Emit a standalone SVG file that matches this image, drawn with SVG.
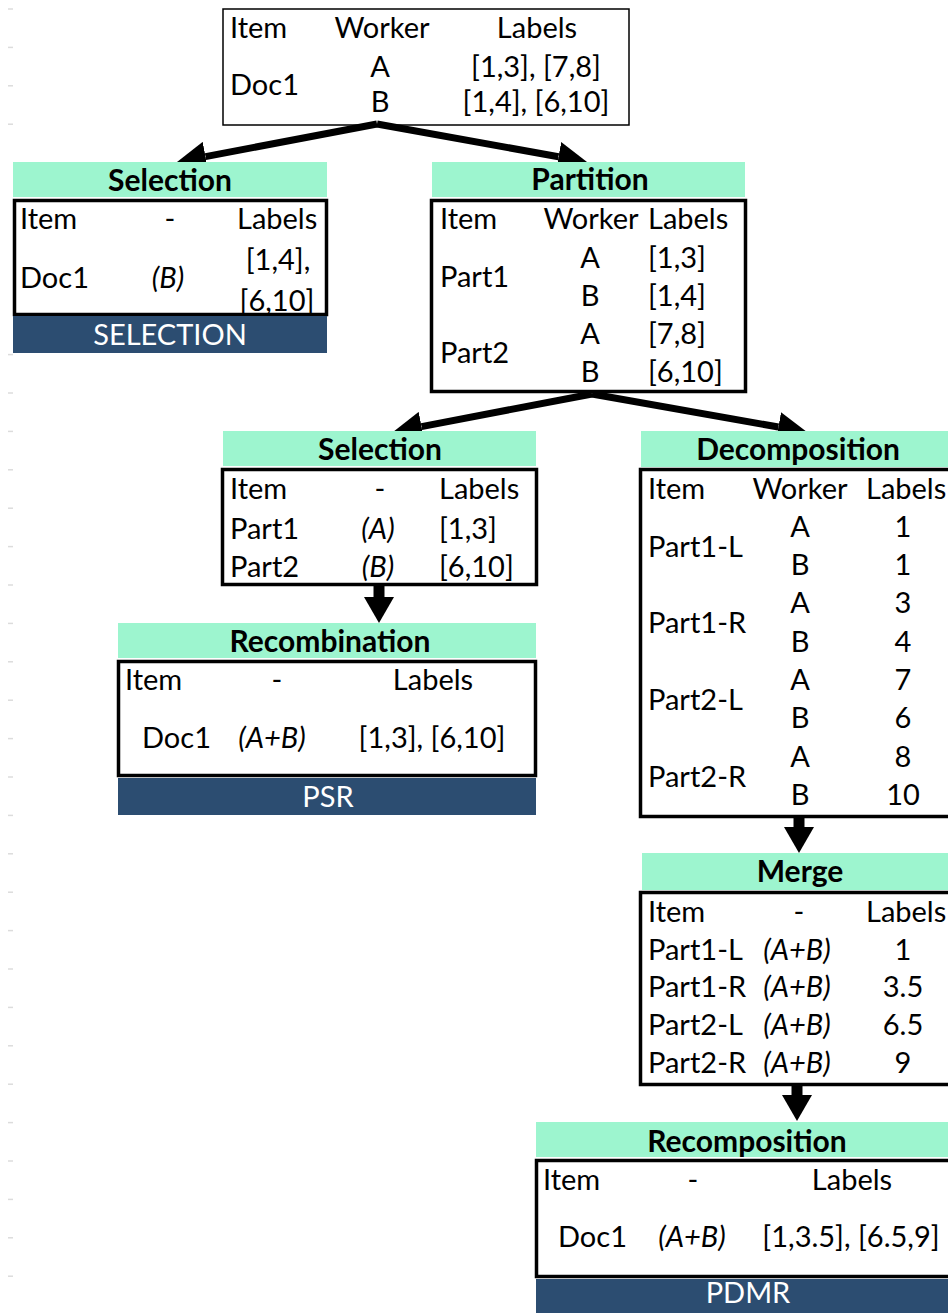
<svg xmlns="http://www.w3.org/2000/svg" width="948" height="1313" viewBox="0 0 948 1313">
<defs>
<style>
text{font-family:Lato,"Open Sans","Liberation Sans",sans-serif;font-size:29px;fill:#000}
.m{text-anchor:middle}
.b{font-weight:bold;font-size:30px}
.i{font-style:italic}
.w{fill:#fff}
.hd{fill:#9df5cf}
.bn{fill:#2c4d71}
.bx{fill:none;stroke:#000;stroke-width:3.5}
.src{fill:none;stroke:#000;stroke-width:1.5}
.tick{stroke:#dcdcdc;stroke-width:1.5}
.conn{stroke:#000;fill:none}
.d{stroke-width:7;marker-end:url(#hd)}
.v{stroke-width:11;marker-end:url(#hv)}
</style>
<marker id="hd" viewBox="0 -15 29 30" refX="0" refY="0" markerWidth="29" markerHeight="30" markerUnits="userSpaceOnUse" orient="auto"><path d="M0,-15 L29,0 L0,15 z" fill="#000"/></marker>
<marker id="hv" viewBox="0 -15 26 30" refX="0" refY="0" markerWidth="26" markerHeight="30" markerUnits="userSpaceOnUse" orient="auto"><path d="M0,-15 L26,0 L0,15 z" fill="#000"/></marker>
</defs>
<rect width="948" height="1313" fill="#fff"/>
<g id="gridticks">
<line class="tick" x1="8" x2="13" y1="9" y2="9"/><line class="tick" x1="8" x2="13" y1="47.4" y2="47.4"/><line class="tick" x1="8" x2="13" y1="85.8" y2="85.8"/><line class="tick" x1="8" x2="13" y1="124.2" y2="124.2"/><line class="tick" x1="8" x2="13" y1="354.6" y2="354.6"/><line class="tick" x1="8" x2="13" y1="393" y2="393"/><line class="tick" x1="8" x2="13" y1="431.4" y2="431.4"/><line class="tick" x1="8" x2="13" y1="469.8" y2="469.8"/><line class="tick" x1="8" x2="13" y1="508.2" y2="508.2"/><line class="tick" x1="8" x2="13" y1="546.6" y2="546.6"/><line class="tick" x1="8" x2="13" y1="585" y2="585"/><line class="tick" x1="8" x2="13" y1="623.4" y2="623.4"/><line class="tick" x1="8" x2="13" y1="661.8" y2="661.8"/><line class="tick" x1="8" x2="13" y1="700.2" y2="700.2"/><line class="tick" x1="8" x2="13" y1="738.6" y2="738.6"/><line class="tick" x1="8" x2="13" y1="777" y2="777"/><line class="tick" x1="8" x2="13" y1="815.4" y2="815.4"/><line class="tick" x1="8" x2="13" y1="853.8" y2="853.8"/><line class="tick" x1="8" x2="13" y1="892.2" y2="892.2"/><line class="tick" x1="8" x2="13" y1="930.6" y2="930.6"/><line class="tick" x1="8" x2="13" y1="969" y2="969"/><line class="tick" x1="8" x2="13" y1="1007.4" y2="1007.4"/><line class="tick" x1="8" x2="13" y1="1045.8" y2="1045.8"/><line class="tick" x1="8" x2="13" y1="1084.2" y2="1084.2"/><line class="tick" x1="8" x2="13" y1="1122.6" y2="1122.6"/><line class="tick" x1="8" x2="13" y1="1161" y2="1161"/><line class="tick" x1="8" x2="13" y1="1199.4" y2="1199.4"/><line class="tick" x1="8" x2="13" y1="1237.8" y2="1237.8"/><line class="tick" x1="8" x2="13" y1="1276.2" y2="1276.2"/>
</g>
<g id="connectors">
<line class="conn d" x1="377" y1="124" x2="205.5" y2="156.6"/>
<line class="conn d" x1="377" y1="124" x2="558.5" y2="156.8"/>
<line class="conn d" x1="592" y1="394" x2="421.5" y2="426.6"/>
<line class="conn d" x1="592" y1="394" x2="778.4" y2="427"/>
<line class="conn v" x1="379" y1="585" x2="379" y2="597"/>
<line class="conn v" x1="799" y1="817" x2="799" y2="827"/>
<line class="conn v" x1="797" y1="1085" x2="797" y2="1095"/>
</g>
<g id="source">
<rect class="src" x="223" y="9" width="406" height="116"/>
<text x="230" y="38">Item</text>
<text class="m" x="382" y="38">Worker</text>
<text class="m" x="537" y="38">Labels</text>
<text x="230" y="95">Doc1</text>
<text class="m" x="380" y="77">A</text>
<text class="m" x="536" y="77">[1,3], [7,8]</text>
<text class="m" x="380" y="112">B</text>
<text class="m" x="536" y="112">[1,4], [6,10]</text>
</g>
<g id="selection1">
<rect class="hd" x="13" y="162" width="314" height="35"/>
<text class="m b" x="170" y="191">Selection</text>
<text x="20" y="229">Item</text>
<text class="m" x="170" y="229">-</text>
<text x="237" y="229">Labels</text>
<text x="20" y="288">Doc1</text>
<text class="m i" x="168" y="288">(B)</text>
<text class="m" x="278" y="270">[1,4],</text>
<text class="m" x="277" y="311">[6,10]</text>
<rect fill="#fff" x="14" y="316" width="314" height="10"/>
<rect class="bx" x="14.5" y="200.5" width="312" height="114"/>
<rect class="bn" x="13" y="316" width="314" height="37"/>
<text class="m w" x="170" y="345">SELECTION</text>
</g>
<g id="partition">
<rect class="hd" x="432" y="162" width="313" height="35"/>
<text class="m b" x="590" y="190">Partition</text>
<rect class="bx" x="431.5" y="200.5" width="314" height="191"/>
<text x="440" y="229">Item</text>
<text class="m" x="591" y="229">Worker</text>
<text x="648" y="229">Labels</text>
<text x="440" y="287">Part1</text>
<text x="440" y="363">Part2</text>
<text class="m" x="590" y="268">A</text>
<text class="m" x="590" y="306">B</text>
<text class="m" x="590" y="344">A</text>
<text class="m" x="590" y="382">B</text>
<text x="648" y="268">[1,3]</text>
<text x="648" y="306">[1,4]</text>
<text x="648" y="344">[7,8]</text>
<text x="648" y="382">[6,10]</text>
</g>
<g id="selection2">
<rect class="hd" x="223" y="431" width="313" height="35"/>
<text class="m b" x="380" y="460">Selection</text>
<rect class="bx" x="222.5" y="469.5" width="314" height="115"/>
<text x="230" y="499">Item</text>
<text class="m" x="380" y="499">-</text>
<text x="439" y="499">Labels</text>
<text x="230" y="539">Part1</text>
<text class="m i" x="378" y="539">(A)</text>
<text x="439" y="539">[1,3]</text>
<text x="230" y="577">Part2</text>
<text class="m i" x="378" y="577">(B)</text>
<text x="439" y="577">[6,10]</text>
</g>
<g id="recombination">
<rect class="hd" x="118" y="623" width="418" height="35"/>
<text class="m b" x="330" y="652">Recombination</text>
<rect class="bx" x="118.5" y="661.5" width="417" height="114"/>
<text x="125" y="690">Item</text>
<text class="m" x="277" y="690">-</text>
<text class="m" x="433" y="690">Labels</text>
<text x="142" y="748">Doc1</text>
<text class="m i" x="272" y="748">(A+B)</text>
<text class="m" x="432" y="748">[1,3], [6,10]</text>
<rect class="bn" x="118" y="778" width="418" height="37"/>
<text class="m w" x="328" y="807">PSR</text>
</g>
<g id="decomposition">
<rect class="hd" x="641" y="431" width="320" height="36"/>
<text class="m b" x="798" y="460">Decomposition</text>
<rect class="bx" x="640.5" y="469.5" width="320" height="347"/>
<text x="648" y="499">Item</text>
<text class="m" x="800" y="499">Worker</text>
<text x="866" y="499">Labels</text>
<text x="648" y="557">Part1-L</text>
<text x="648" y="633">Part1-R</text>
<text x="648" y="710">Part2-L</text>
<text x="648" y="787">Part2-R</text>
<text class="m" x="800" y="537">A</text>
<text class="m" x="800" y="575">B</text>
<text class="m" x="800" y="613">A</text>
<text class="m" x="800" y="652">B</text>
<text class="m" x="800" y="690">A</text>
<text class="m" x="800" y="728">B</text>
<text class="m" x="800" y="767">A</text>
<text class="m" x="800" y="805">B</text>
<text class="m" x="903" y="537">1</text>
<text class="m" x="903" y="575">1</text>
<text class="m" x="903" y="613">3</text>
<text class="m" x="903" y="652">4</text>
<text class="m" x="903" y="690">7</text>
<text class="m" x="903" y="728">6</text>
<text class="m" x="903" y="767">8</text>
<text class="m" x="903" y="805">10</text>
</g>
<g id="merge">
<rect class="hd" x="642" y="853" width="320" height="37"/>
<text class="m b" x="800" y="882">Merge</text>
<rect class="bx" x="640.5" y="892.5" width="320" height="192"/>
<text x="648" y="922">Item</text>
<text class="m" x="799" y="922">-</text>
<text x="866" y="922">Labels</text>
<text x="648" y="960">Part1-L</text>
<text x="648" y="997">Part1-R</text>
<text x="648" y="1035">Part2-L</text>
<text x="648" y="1073">Part2-R</text>
<text class="m i" x="797" y="960">(A+B)</text>
<text class="m i" x="797" y="997">(A+B)</text>
<text class="m i" x="797" y="1035">(A+B)</text>
<text class="m i" x="797" y="1073">(A+B)</text>
<text class="m" x="903" y="960">1</text>
<text class="m" x="903" y="997">3.5</text>
<text class="m" x="903" y="1035">6.5</text>
<text class="m" x="903" y="1073">9</text>
</g>
<g id="recomposition">
<rect class="hd" x="536" y="1122" width="420" height="35"/>
<text class="m b" x="747" y="1152">Recomposition</text>
<rect class="bx" x="536.5" y="1160.5" width="420" height="116"/>
<text x="543" y="1190">Item</text>
<text class="m" x="693" y="1190">-</text>
<text class="m" x="852" y="1190">Labels</text>
<text x="558" y="1247">Doc1</text>
<text class="m i" x="692" y="1247">(A+B)</text>
<text class="m" x="851" y="1247">[1,3.5], [6.5,9]</text>
<rect class="bn" x="536" y="1279" width="420" height="40"/>
<text class="m w" x="748" y="1303">PDMR</text>
</g>
</svg>
